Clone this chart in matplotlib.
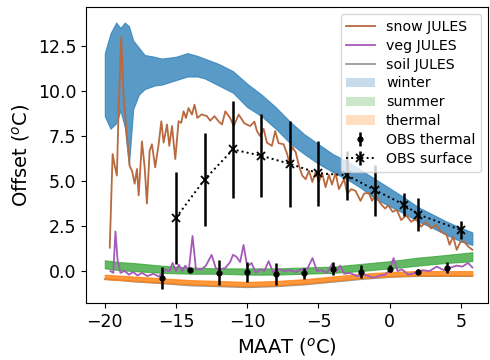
import numpy as np
import matplotlib
matplotlib.use('Agg')
import matplotlib.pyplot as plt

# ---------------------------------------------------------------------------
# datos
# ---------------------------------------------------------------------------
# banda invierno (ensemble JULES)
winter_x = [-20.0, -19.6, -19.2, -18.9, -18.6, -18.3, -18.0, -17.6, -17.2, -16.5,
            -16.0, -15.0, -14.2, -13.5, -13.0, -12.0, -11.0, -10.0, -9.0, -8.0,
            -7.0, -6.0, -5.0, -4.0, -3.0, -2.0, -1.0, 0.0, 1.0, 2.0,
            3.0, 4.0, 5.0, 5.8]
winter_lo = [8.6, 7.9, 8.2, 8.9, 8.0, 5.9, 9.0, 9.8, 10.1, 10.3,
             10.35, 10.6, 10.8, 10.8, 10.7, 10.3, 9.9, 9.1, 8.6, 7.9,
             7.1, 6.5, 5.95, 5.5, 5.1, 4.6, 4.0, 3.6, 3.2, 2.75,
             2.4, 2.0, 1.65, 1.45]
winter_hi = [12.1, 13.2, 13.8, 13.5, 13.8, 13.6, 12.8, 12.4, 12.0, 11.9,
             11.8, 11.9, 12.1, 11.95, 11.8, 11.5, 11.1, 10.4, 9.8, 9.1,
             8.3, 7.6, 7.05, 6.5, 6.1, 5.6, 5.1, 4.6, 4.1, 3.55,
             3.15, 2.75, 2.4, 2.15]

season_x = [-20, -19, -18, -16, -14, -12, -10, -8, -6, -4, -2, 0, 1, 2, 3, 4, 5, 5.8]
summer_lo = [0.15, 0.05, 0.0, -0.1, -0.15, -0.15, -0.2, -0.2, -0.15, -0.1, 0.0, 0.15, 0.22, 0.3, 0.38, 0.45, 0.5, 0.55]
summer_hi = [0.6, 0.5, 0.45, 0.3, 0.2, 0.15, 0.15, 0.15, 0.2, 0.25, 0.4, 0.55, 0.65, 0.75, 0.82, 0.9, 0.98, 1.05]
thermal_lo = [-0.45, -0.5, -0.55, -0.65, -0.75, -0.8, -0.85, -0.8, -0.7, -0.55, -0.4, -0.3, -0.27, -0.25, -0.25, -0.25, -0.25, -0.25]
thermal_hi = [-0.2, -0.25, -0.3, -0.4, -0.5, -0.55, -0.6, -0.55, -0.45, -0.3, -0.15, -0.05, -0.02, 0.0, 0.0, 0.0, 0.0, 0.0]
soil_y = [-0.45, -0.5, -0.58, -0.68, -0.8, -0.85, -0.9, -0.85, -0.75, -0.6, -0.45, -0.33, -0.3, -0.28, -0.28, -0.28, -0.28, -0.28]

snow_x = [-19.65, -19.45, -19.3, -19.15, -19.03, -18.85, -18.68, -18.5, -18.26, -18.09,
          -17.9, -17.74, -17.62, -17.39, -17.2, -17.04, -16.85, -16.69, -16.46, -16.22,
          -16.03, -15.87, -15.63, -15.47, -15.28, -15.05, -14.82, -14.63, -14.47, -14.3,
          -14.12, -13.88, -13.7, -13.5, -13.2, -12.83, -12.6, -12.3, -12.0, -11.77,
          -11.54, -11.2, -10.95, -10.6, -10.2, -9.79, -9.5, -9.32, -9.1, -8.85,
          -8.62, -8.27, -8.04, -7.8, -7.45, -7.2, -7.05, -6.85, -6.6, -6.37,
          -6.14, -5.9, -5.67, -5.43, -5.2, -4.97, -4.75, -4.5, -4.27, -4.05,
          -3.8, -3.57, -3.2, -2.98, -2.7, -2.4, -2.05, -1.8, -1.47, -1.24,
          -1.0, -0.65, -0.32, -0.1, 0.2, 0.5, 0.8, 1.15, 1.5, 1.85,
          2.2, 2.55, 2.9, 3.25, 3.6, 4.0, 4.2, 4.45, 4.7, 4.95,
          5.2, 5.5, 5.8]
snow_y = [1.3, 6.5, 5.85, 5.3, 8.9, 13.0, 9.7, 8.0, 5.85, 5.57,
          4.85, 5.67, 4.2, 7.2, 5.76, 3.75, 6.68, 7.04, 5.76, 7.04,
          8.32, 7.13, 8.14, 6.95, 8.05, 6.22, 8.32, 8.23, 8.87, 8.5,
          9.05, 8.69, 9.24, 8.5, 8.7, 8.6, 8.35, 8.6, 8.3, 8.14,
          8.87, 8.5, 8.05, 8.69, 8.2, 8.05, 8.3, 7.77, 7.5, 7.9,
          7.13, 6.95, 7.77, 7.1, 7.04, 6.5, 6.0, 6.9, 6.6, 5.85,
          5.3, 5.1, 5.57, 4.95, 5.5, 4.95, 5.45, 4.66, 5.35, 4.8,
          5.45, 4.55, 5.1, 4.3, 4.55, 4.45, 3.9, 4.3, 4.35, 3.9,
          4.25, 3.75, 3.47, 3.65, 3.29, 3.4, 2.83, 3.1, 2.74, 2.9,
          2.46, 2.74, 2.37, 2.55, 2.19, 2.0, 1.46, 1.92, 1.18, 1.6,
          1.65, 1.37, 1.18]

veg_x = [-19.6, -19.4, -19.25, -19.1, -18.9, -18.6, -18.3, -18.0, -17.7, -17.4,
         -17.0, -16.6, -16.2, -15.75, -15.45, -15.24, -15.0, -14.8, -14.56, -14.35,
         -14.1, -13.84, -13.6, -13.2, -12.9, -12.5, -12.2, -11.95, -11.54, -11.2,
         -11.0, -10.77, -10.5, -10.26, -10.0, -9.7, -9.4, -9.1, -8.8, -8.5,
         -8.2, -7.8, -7.4, -7.0, -6.6, -6.2, -5.8, -5.42, -5.1, -4.8,
         -4.4, -4.04, -3.75, -3.48, -3.2, -2.8, -2.3, -1.8, -1.4, -1.1,
         -0.7, -0.3, 0.0, 0.27, 0.55, 0.85, 1.3, 1.8, 2.3, 2.8,
         3.3, 3.8, 4.3, 4.7, 5.1, 5.5, 5.8]
veg_y = [0.0, -0.1, 2.2, 0.6, -0.1, 0.0, -0.2, -0.05, -0.25, -0.1,
         -0.28, -0.15, -0.3, 0.08, 0.0, 0.45, 0.0, 0.35, 0.0, 0.3,
         0.05, 1.95, 0.1, 0.1, 0.3, 0.9, 0.15, 0.1, 0.17, 0.5,
         0.9, 0.8, 0.5, 1.45, 0.25, 0.45, -0.1, 0.1, 0.0, 0.55,
         -0.05, 0.1, 0.0, 0.05, -0.05, 0.1, 0.1, 0.72, 0.0, 0.05,
         -0.1, 0.4, -0.05, 0.3, -0.15, -0.1, -0.28, -0.2, -0.3, -0.37,
         -0.25, -0.2, 0.07, 0.72, 0.0, 0.1, -0.2, -0.1, 0.05, 0.0,
         0.25, 0.05, 0.2, 0.3, 0.25, 0.45, 0.2]

# observaciones
obs_th_x = [-16, -14, -12, -10, -8, -6, -4, -2, 0, 2, 4]
obs_th_y = [-0.37, 0.07, -0.08, -0.03, -0.15, -0.12, 0.14, -0.04, 0.14, -0.03, 0.18]
obs_th_err = [0.62, 0.1, 0.7, 0.55, 0.6, 0.3, 0.35, 0.37, 0.2, 0.15, 0.3]

obs_sf_x = [-15, -13, -11, -9, -7, -5, -3, -1, 1, 2, 5]
obs_sf_y = [2.96, 5.08, 6.75, 6.4, 5.95, 5.43, 5.32, 4.48, 3.69, 3.14, 2.28]
obs_sf_err = [2.55, 2.6, 2.68, 2.3, 2.4, 1.8, 1.37, 1.4, 0.62, 0.92, 0.48]

# ---------------------------------------------------------------------------
# figura
# ---------------------------------------------------------------------------
fig = plt.figure(figsize=(4.9, 3.6), dpi=100)
ax = fig.add_axes([0.176, 0.158, 0.82, 0.823])

ax.plot(snow_x, snow_y, color='#b8693e', lw=1.3, label='snow JULES', zorder=3)
ax.plot(veg_x, veg_y, color='#a45ab8', lw=1.3, label='veg JULES', zorder=3)
ax.plot(season_x, soil_y, color='grey', lw=1.3, alpha=0.8, label='soil JULES', zorder=1)

ax.fill_between(winter_x, winter_lo, winter_hi, color='C0', alpha=0.25, lw=0, label='winter')
ax.fill_between(summer_x := season_x, summer_lo, summer_hi, color='C2', alpha=0.25, lw=0, label='summer')
ax.fill_between(season_x, thermal_lo, thermal_hi, color='C1', alpha=0.25, lw=0, label='thermal')
# relleno denso del ensemble (sin etiqueta)
ax.fill_between(winter_x, winter_lo, winter_hi, color='C0', alpha=0.65, lw=0.8, edgecolor='C0')
ax.fill_between(season_x, summer_lo, summer_hi, color='C2', alpha=0.65, lw=0.8, edgecolor='C2')
ax.fill_between(season_x, thermal_lo, thermal_hi, color='C1', alpha=0.75, lw=0.8, edgecolor='C1')

ax.errorbar(obs_th_x, obs_th_y, yerr=obs_th_err, fmt='.', color='k', ms=7,
            elinewidth=1.8, label='OBS thermal', zorder=4)
ax.errorbar(obs_sf_x, obs_sf_y, yerr=obs_sf_err, fmt='x:', color='k', ms=6, mew=1.3,
            lw=1.4, elinewidth=1.8, label='OBS surface', zorder=4)

ax.set_xlim(-21.3, 6.9)
ax.set_ylim(-1.78, 14.67)
ax.set_xticks([-20, -15, -10, -5, 0, 5])
ax.set_yticks([0, 2.5, 5, 7.5, 10, 12.5])
ax.tick_params(labelsize=12.5)
ax.set_xlabel(r'MAAT ($^o$C)', fontsize=14)
ax.set_ylabel(r'Offset ($^o$C)', fontsize=14)
ax.legend(loc='upper right', fontsize=10.2, handlelength=2.0, labelspacing=0.35)

fig.savefig('out.png', dpi=100)
